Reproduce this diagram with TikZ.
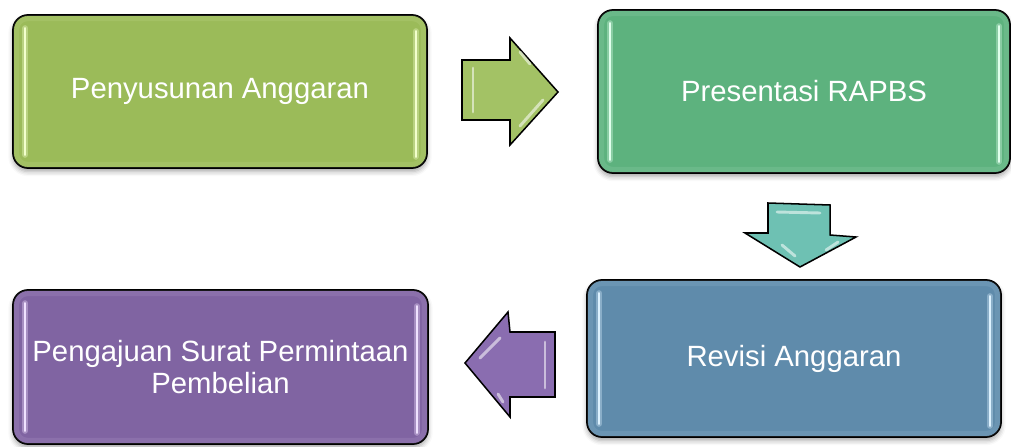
\documentclass[tikz,border=0pt]{standalone}
\usepackage{fontspec}
\setmainfont{Liberation Sans}
\usetikzlibrary{calc,shadows.blur}
\definecolor{cA}{HTML}{9BBB59}
\definecolor{cB}{HTML}{5DB27E}
\definecolor{cC}{HTML}{5F8BAB}
\definecolor{cD}{HTML}{8064A2}
\definecolor{hA}{HTML}{F2FFCC}
\definecolor{hB}{HTML}{E0FFEC}
\definecolor{hC}{HTML}{DDF2FF}
\definecolor{hD}{HTML}{F0E2FF}
\definecolor{aA}{HTML}{A3C265}
\definecolor{aB}{HTML}{6EC1B3}
\definecolor{aD}{HTML}{8A6DB0}
\begin{document}
\begin{tikzpicture}[x=0.03cm,y=-0.03cm,
  box/.style={draw=black, line width=1.5pt, rounded corners=0.45cm,
    text=white, font=\fontsize{25}{27.5}\selectfont, align=center,
    blur shadow={shadow xshift=0pt, shadow yshift=-3pt, shadow blur radius=4pt, shadow opacity=35}},
  glow/.style={line width=5pt, line cap=round, opacity=0.35},
  hl/.style={line width=2pt, line cap=round},
  barrow/.style={draw=black, line width=1.3pt, line join=miter},
  bevel/.style={white, line width=2.5pt, line cap=round, opacity=0.55}]
\useasboundingbox (0,0) rectangle (1011,446);

% boxes
\node[box, fill=cA, minimum width=12.42cm, minimum height=4.59cm] (b1) at (220,91.5) {Penyusunan Anggaran};
\node[box, fill=cB, minimum width=12.36cm, minimum height=4.89cm] (b2) at (804,91.5) {Presentasi RAPBS};
\node[box, fill=cC, minimum width=12.42cm, minimum height=4.71cm] (b3) at (794,358.5) {Revisi Anggaran};
\node[box, fill=cD, minimum width=12.45cm, minimum height=4.62cm] (b4) at (220.5,367) {Pengajuan Surat Permintaan\\Pembelian};

% inner highlights
\foreach \b/\h in {b1/hA, b2/hB, b3/hC, b4/hD}{
  \draw[glow, \h] ($(\b.north west)+(13,14)$) -- ($(\b.south west)+(13,-14)$);
  \draw[glow, \h] ($(\b.north east)+(-12,17)$) -- ($(\b.south east)+(-12,-12)$);
  \draw[hl, \h] ($(\b.north west)+(13,14)$) -- ($(\b.south west)+(13,-14)$);
  \draw[hl, \h] ($(\b.north east)+(-12,17)$) -- ($(\b.south east)+(-12,-12)$);
  \draw[\h, line width=5pt, opacity=0.1, rounded corners=0.35cm]
    ($(\b.north west)+(4,4)$) rectangle ($(\b.south east)+(-4,-4)$);
}

% right arrow
\coordinate (r1) at (462,60);
\draw[barrow, fill=aA] (r1) -- (510,60) -- (510,38) -- (558,92) -- (510,145) -- (510,120) -- (462,120) -- cycle;
\draw[bevel] (473,68) -- (473,112);
\draw[bevel] (520,52) -- (530,64);
\draw[bevel] (543,100) -- (520,126);

% down arrow
\coordinate (d1) at (768,203);
\draw[barrow, fill=aB] (d1) -- (830,205) -- (830,235) -- (856,237) -- (800,267) -- (745,233) -- (768,233) -- cycle;
\draw[bevel] (777,212) -- (820,213);
\draw[bevel] (782,245) -- (795,256);
\draw[bevel] (838,242) -- (826,250);

% left arrow
\coordinate (l1) at (465,363);
\draw[barrow, fill=aD] (l1) -- (508,312) -- (510,332) -- (555,332) -- (555,397) -- (510,397) -- (510,417) -- cycle;
\draw[bevel] (545,342) -- (545,388);
\draw[bevel] (480,358) -- (500,338);
\draw[bevel] (498,394) -- (503,402);
\end{tikzpicture}
\end{document}
